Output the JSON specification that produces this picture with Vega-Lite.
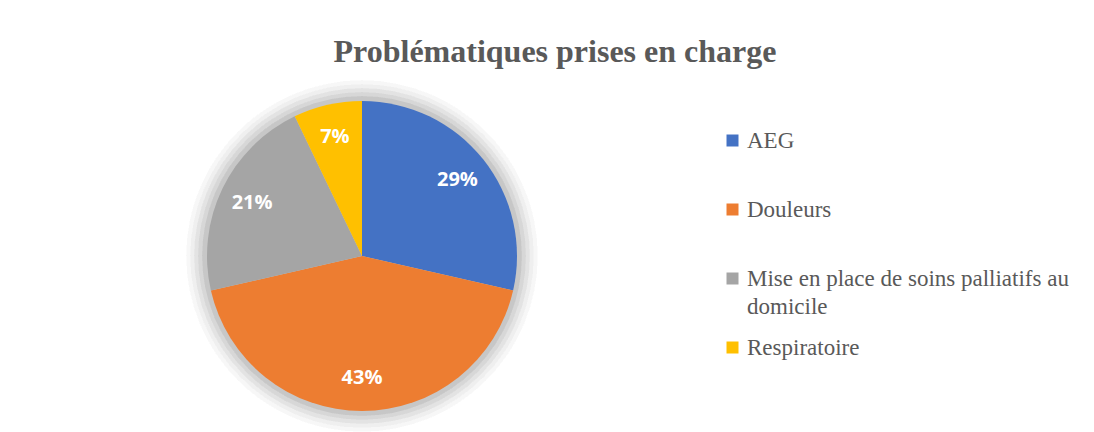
{
  "$schema": "https://vega.github.io/schema/vega-lite/v6.json",
  "width": 310,
  "height": 310,
  "autosize": {"type": "none"},
  "padding": {"left": 207, "top": 101, "right": 577, "bottom": 21},
  "background": "white",
  "title": {
    "text": "Problématiques prises en charge",
    "font": "Liberation Serif",
    "fontSize": 32,
    "fontWeight": "bold",
    "color": "#595959",
    "anchor": "middle",
    "dx": 193,
    "offset": 11
  },
  "data": {
    "values": [
      {"cat": "AEG", "n": 4, "label": "29%"},
      {"cat": "Douleurs", "n": 6, "label": "43%"},
      {"cat": "Mise en place de soins palliatifs au domicile", "n": 3, "label": "21%"},
      {"cat": "Respiratoire", "n": 1, "label": "7%"}
    ]
  },
  "config": {
    "view": {"stroke": null},
    "style": {"guide-label": {"lineHeight": 28}}
  },
  "layer": [
    {"mark": {"type": "arc", "theta": 0, "theta2": 6.2832, "outerRadius": 176, "color": "#000", "opacity": 0.007}, "encoding": {}},
    {"mark": {"type": "arc", "theta": 0, "theta2": 6.2832, "outerRadius": 172, "color": "#000", "opacity": 0.009}, "encoding": {}},
    {"mark": {"type": "arc", "theta": 0, "theta2": 6.2832, "outerRadius": 168, "color": "#000", "opacity": 0.011}, "encoding": {}},
    {"mark": {"type": "arc", "theta": 0, "theta2": 6.2832, "outerRadius": 164, "color": "#000", "opacity": 0.013}, "encoding": {}},
    {"mark": {"type": "arc", "theta": 0, "theta2": 6.2832, "outerRadius": 160, "color": "#000", "opacity": 0.016}, "encoding": {}},
    {
      "mark": {"type": "arc", "outerRadius": 155},
      "encoding": {
        "theta": {"field": "n", "type": "quantitative", "stack": true},
        "order": {"field": "cat", "type": "nominal", "sort": "ascending"},
        "color": {
          "field": "cat",
          "type": "nominal",
          "scale": {
            "domain": ["AEG", "Douleurs", "Mise en place de soins palliatifs au domicile", "Respiratoire"],
            "range": ["#4472C4", "#ED7D31", "#A5A5A5", "#FFC000"]
          },
          "legend": {
            "title": null,
            "orient": "none",
            "legendX": 514,
            "legendY": 28,
            "padding": 0,
            "symbolType": "square",
            "symbolSize": 144,
            "symbolStrokeWidth": 0,
            "labelFont": "Liberation Serif",
            "labelFontSize": 23,
            "labelColor": "#595959",
            "labelOffset": 3,
            "labelLimit": 400,
            "rowPadding": 17,
            "labelExpr": "datum.label == 'Mise en place de soins palliatifs au domicile' ? ['Mise en place de soins palliatifs au', 'domicile'] : [datum.label, ' ']"
          }
        }
      }
    },
    {
      "mark": {"type": "text", "radius": 122, "color": "white", "font": "Open Sans", "fontWeight": "bold", "fontSize": 20},
      "encoding": {
        "theta": {"field": "n", "type": "quantitative", "stack": true},
        "order": {"field": "cat", "type": "nominal", "sort": "ascending"},
        "detail": {"field": "cat", "type": "nominal"},
        "text": {"field": "label", "type": "nominal"}
      }
    }
  ]
}
